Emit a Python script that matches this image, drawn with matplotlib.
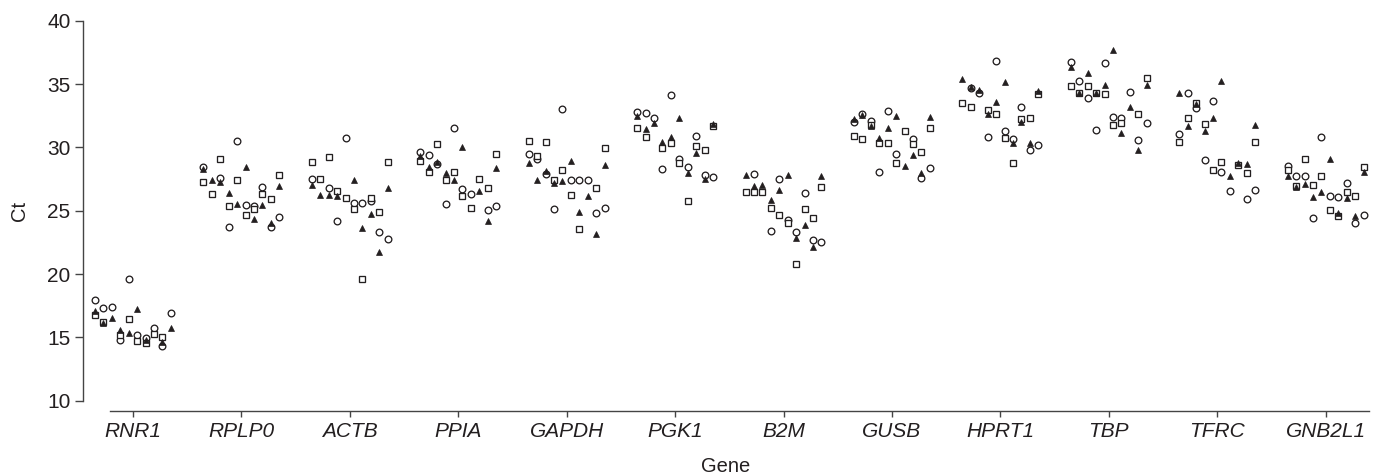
import numpy as np
import matplotlib
matplotlib.use("Agg")
import matplotlib.pyplot as plt
from matplotlib import font_manager

# --------------------------------------------------
# 1. Data (Ct per gene, 10 samples, three sample groups)
# --------------------------------------------------
genes = ["RNR1", "RPLP0", "ACTB", "PPIA", "GAPDH", "PGK1",
         "B2M", "GUSB", "HPRT1", "TBP", "TFRC", "GNB2L1"]

nan = np.nan

# open circles
ct_circle = [
    [17.95, 17.34, 17.42, 14.79, 19.61, 15.19, 14.97, 15.76, 14.34, 16.95],
    [28.43, nan, 27.60, 23.69, 30.53, 25.45, 25.40, 26.84, 23.74, 24.50],
    [27.48, nan, 26.82, 24.21, 30.71, 25.63, 25.63, 25.77, 23.32, 22.74],
    [29.61, 29.40, 28.69, 25.50, 31.50, 26.71, 26.34, nan, 25.03, 25.40],
    [29.45, 29.06, 27.87, 25.16, 33.00, 27.42, 27.42, 27.42, 24.79, 25.21],
    [32.77, 32.69, 32.35, 28.29, 34.14, 29.08, 28.47, 30.92, 27.84, 27.63],
    [nan, 27.87, nan, 23.37, 27.48, 24.27, 23.34, 26.42, 22.69, 22.55],
    [31.98, 32.63, 32.10, 28.08, 32.90, 29.45, nan, 30.69, 27.60, 28.35],
    [nan, 34.71, 34.32, 30.82, 36.79, 31.29, 30.69, 33.21, 29.77, 30.21],
    [36.74, 35.22, 33.87, 31.37, 36.64, 32.42, 32.29, 34.37, 30.61, 31.92],
    [31.08, 34.27, 33.08, 29.00, 33.69, 28.03, 26.55, nan, 25.90, 26.66],
    [28.55, 27.76, 27.72, 24.40, 30.82, 26.13, 26.05, 27.16, 24.00, 24.66],
]

# open squares
ct_square = [
    [16.77, 16.19, nan, 15.19, 16.45, 14.74, 14.53, 15.27, 15.03, nan],
    [27.29, 26.29, 29.11, 25.40, 27.42, 24.66, 25.13, 26.32, 25.95, 27.82],
    [28.82, 27.50, 29.21, 26.55, 25.97, 25.16, 19.63, 25.97, 24.87, 28.87],
    [28.95, 28.03, 30.29, 27.40, 28.06, 26.18, 25.19, 27.48, 26.82, 29.48],
    [30.48, 29.32, 30.45, 27.42, 28.24, 26.26, 23.53, nan, 26.82, 29.93],
    [31.50, 30.79, nan, 29.97, 30.37, 28.80, 25.77, 30.11, 29.79, 31.69],
    [26.45, 26.50, 26.50, 25.21, 24.63, 24.01, 20.77, 25.11, 24.45, 26.89],
    [30.92, 30.63, 31.79, 30.37, 30.37, 28.74, 31.27, 30.24, 29.66, 31.53],
    [33.53, 33.21, nan, 32.95, 32.63, 30.74, 28.77, 32.24, 32.29, 34.21],
    [34.87, 34.27, 34.84, 34.27, 34.24, 31.74, 31.90, nan, 32.66, 35.50],
    [30.40, 32.29, 33.48, 31.87, 28.21, 28.84, nan, 28.61, 27.95, 30.40],
    [28.21, 26.93, 29.06, 27.03, 27.72, 25.08, 24.60, 26.50, 26.18, 28.47],
]

# filled triangles
ct_triangle = [
    [17.08, 16.11, 16.55, 15.58, 15.32, 17.24, 14.80, nan, 14.66, 15.76],
    [28.27, 27.42, 27.29, 26.37, 25.53, 28.43, 24.32, 25.45, 24.05, 26.97],
    [27.03, 26.24, 26.24, 26.16, nan, 27.42, 23.63, 24.71, 21.72, 26.79],
    [29.34, 28.43, 28.87, 27.95, 27.42, 30.03, nan, 26.55, 24.19, 28.35],
    [28.74, 27.42, 28.16, 27.16, 27.37, 28.92, 24.87, 26.13, 23.13, 28.61],
    [32.48, 31.42, 31.95, 30.45, 30.79, 32.29, 27.95, 29.53, 27.53, 31.84],
    [27.79, 26.95, 27.03, 25.84, 26.63, 27.82, 22.85, 23.85, 22.16, 27.74],
    [32.21, 32.53, 31.69, 30.77, 31.50, 32.48, 28.53, 29.40, 27.95, 32.37],
    [35.37, 34.79, 34.53, 32.63, 33.56, 35.13, 30.37, 31.98, 30.34, 34.45],
    [36.32, 34.32, 35.85, 34.32, 34.92, 37.69, 31.13, 33.16, 29.79, 34.90],
    [34.27, 31.69, 33.40, 31.29, 32.29, 35.24, 27.72, 28.74, 28.66, 31.74],
    [27.76, 26.87, 27.11, 26.08, 26.45, 29.08, 24.79, 25.97, 24.56, 28.08],
]

# --------------------------------------------------
# 2. Fonts: Arial-like, plus a family that really has an italic face
# --------------------------------------------------
plt.rcParams["font.family"] = ["Liberation Sans", "DejaVu Sans"]

italic_family = "DejaVu Sans"
for fam in ["Liberation Sans", "Arimo", "Roboto", "Open Sans", "Lato", "Noto Sans", "Inter"]:
    if any(f.name == fam and f.style in ("italic", "oblique")
           for f in font_manager.fontManager.ttflist):
        italic_family = fam
        break

ink = "#231f20"
axis_col = "#444444"

# --------------------------------------------------
# 3. Figure
# --------------------------------------------------
fig = plt.figure(figsize=(13.81, 4.74), dpi=100)
ax = fig.add_axes([0.0601, 0.1546, 0.9312, 0.8017])

n_samples = len(ct_circle[0])
spread = np.linspace(-0.35, 0.35, n_samples)

for i, gene in enumerate(genes):
    x = i + spread
    ax.plot(x, ct_circle[i], linestyle="none", marker="o", markersize=4.8,
            markerfacecolor="white", markeredgecolor=ink, markeredgewidth=0.95)
    ax.plot(x, ct_square[i], linestyle="none", marker="s", markersize=4.3,
            markerfacecolor="white", markeredgecolor=ink, markeredgewidth=0.95)
    ax.plot(x, ct_triangle[i], linestyle="none", marker="^", markersize=4.6,
            markerfacecolor=ink, markeredgecolor=ink, markeredgewidth=0.5)

# --------------------------------------------------
# 4. Axes styling (detached axes)
# --------------------------------------------------
ax.set_xlim(-0.461, 11.40)
ax.set_ylim(10, 40)
ax.set_yticks([10, 15, 20, 25, 30, 35, 40])
ax.set_xticks(range(len(genes)))
ax.set_xticklabels(genes)

for side in ["top", "right"]:
    ax.spines[side].set_visible(False)
for side in ["left", "bottom"]:
    ax.spines[side].set_color(axis_col)
    ax.spines[side].set_linewidth(1.0)
ax.spines["bottom"].set_position(("outward", 7.5))
ax.spines["bottom"].set_bounds(-0.21, 11.40)

ax.tick_params(axis="y", length=6, width=1.0, color=axis_col,
               labelsize=15, labelcolor=ink, pad=3)
ax.tick_params(axis="x", length=4, width=1.0, color=axis_col,
               labelsize=15, labelcolor=ink, pad=4)

for lbl in ax.get_xticklabels():
    lbl.set_family([italic_family, "DejaVu Sans"])
    lbl.set_style("italic")

ax.set_xlabel("Gene", fontsize=14.5, color=ink, labelpad=11)
ax.set_ylabel("Ct", fontsize=14.5, color=ink, labelpad=13)

fig.savefig("out.png", dpi=100)
